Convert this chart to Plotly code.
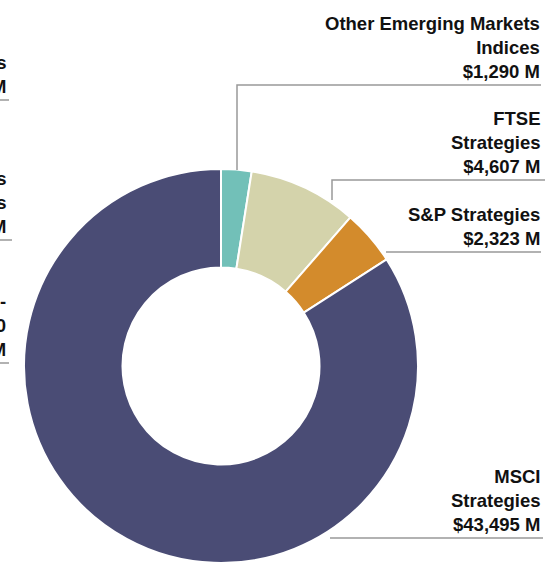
import plotly.graph_objects as go

W, H = 545, 563

labels = ["Other Emerging Markets Indices", "FTSE Strategies", "S&P Strategies", "MSCI Strategies"]
values = [1290, 4607, 2323, 43495]
colors = ["#72c0b8", "#d4d3ab", "#d38b2c", "#4a4c75"]
label_text = [
    "Other Emerging Markets<br>Indices<br>$1,290 M",
    "FTSE<br>Strategies<br>$4,607 M",
    "S&P Strategies<br>$2,323 M",
    "MSCI<br>Strategies<br>$43,495 M",
]

# cut-off labels of a neighbouring chart at the left edge
left_text = ["Strategies<br>$1,000 M", "Strategies<br>Strategies<br>$1,000 M", "-<br>0<br>$1,000 M"]


def px(x):
    return x / W


def py(y):
    return 1 - y / H


fig = go.Figure()
fig.add_trace(go.Pie(
    labels=labels, values=values, hole=0.5, sort=False, direction="clockwise",
    rotation=0, textinfo="none", showlegend=False,
    marker=dict(colors=colors, line=dict(color="white", width=2)),
    domain=dict(x=[px(23), px(419)], y=[0, py(169)]),
))

font = dict(family="Liberation Sans, Arial", size=18.5, color="#111111")

# label anchors (bottom line y) and leader lines
label_bottom = [85, 180, 252, 538]
leaders = [
    [(237, 170), (237, 85), (541, 85)],
    [(332, 200), (332, 180), (545, 180)],
    [(386, 252), (541, 252)],
    [(330, 538), (543, 538)],
]

anns = []
for t, yb in zip(label_text, label_bottom):
    anns.append(dict(x=px(542), y=py(yb - 1), xref="paper", yref="paper", text="<b>" + t + "</b>",
                     showarrow=False, xanchor="right", yanchor="bottom", align="right", font=font))

left_bottom = [100, 240, 363]
for t, yb in zip(left_text, left_bottom):
    anns.append(dict(x=px(8), y=py(yb - 1), xref="paper", yref="paper", text="<b>" + t + "</b>",
                     showarrow=False, xanchor="right", yanchor="bottom", align="right", font=font))

shapes = []
for pts in leaders:
    path = "M " + " L ".join(f"{px(x)},{py(y)}" for x, y in pts)
    shapes.append(dict(type="path", path=path, xref="paper", yref="paper",
                       line=dict(color="#999999", width=1.5)))
for yb, xe in zip(left_bottom, [9, 12, 9]):
    shapes.append(dict(type="line", x0=0, x1=px(xe), y0=py(yb), y1=py(yb), xref="paper", yref="paper",
                       line=dict(color="#999999", width=1.5)))

fig.update_layout(
    width=W, height=H, margin=dict(l=0, r=0, t=0, b=0),
    paper_bgcolor="white", plot_bgcolor="white",
    annotations=anns, shapes=shapes,
)

fig.write_html("out.html", config={"displayModeBar": False},
               post_script="document.body.style.margin='0';document.body.style.overflow='hidden';")
